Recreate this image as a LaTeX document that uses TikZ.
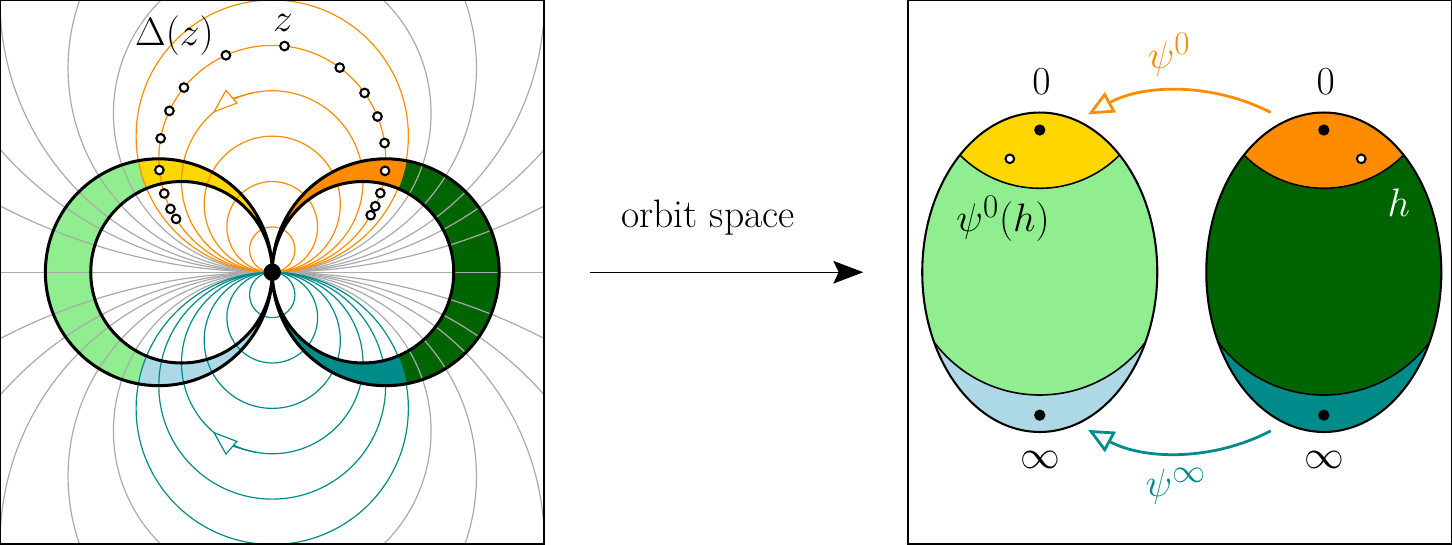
\documentclass[tikz,border=0pt]{standalone}
\usetikzlibrary{arrows.meta}
\definecolor{dorange}{HTML}{FF8C00}
\definecolor{goldc}{HTML}{FFD700}
\definecolor{lgreen}{HTML}{90EE90}
\definecolor{dgreen}{HTML}{006400}
\definecolor{lblue}{HTML}{ADD8E6}
\definecolor{dteal}{HTML}{008B8B}
\definecolor{lgray}{HTML}{AAAAAA}
\begin{document}
\begin{tikzpicture}[x=0.5cm, y=0.5cm,
  every node/.style={font=\fontsize{24.88}{30}\selectfont, inner sep=0pt},
  graycurve/.style={draw=lgray, line width=0.75pt},
  orangecurve/.style={draw=dorange, line width=0.75pt},
  tealcurve/.style={draw=dteal, line width=0.75pt},
  ringline/.style={draw=black, line width=1.9pt},
  wdot/.style={circle, draw=black, fill=white, line width=1.3pt, minimum size=0.19cm, inner sep=0pt},
  bdot/.style={circle, fill=black, minimum size=0.25cm, inner sep=0pt},
  eggline/.style={draw=black, line width=1.3pt},
  caparc/.style={draw=black, line width=1pt},
  flowarrow/.style={line width=1.75pt, -{Triangle[length=0.56cm, width=0.5cm, fill=white]}},
  circarrow/.style={-{Triangle[length=0.56cm, width=0.4cm, fill=white]}},
  panel/.style={draw=black, line width=0.9pt},
]
\useasboundingbox (-12,-12) rectangle (52,12);

% ---------- left panel: ring fills ----------
\fill[lgreen, even odd rule] (-5,0) circle (5) (-4,0) circle (4);
\fill[dgreen, even odd rule] (5,0) circle (5) (4,0) circle (4);
\begin{scope}
  \clip (0,6) circle (6);
  \fill[goldc, even odd rule] (-5,0) circle (5) (-4,0) circle (4);
  \fill[dorange, even odd rule] (5,0) circle (5) (4,0) circle (4);
\end{scope}
\begin{scope}
  \clip (0,-6) circle (6);
  \fill[lblue, even odd rule] (-5,0) circle (5) (-4,0) circle (4);
  \fill[dteal, even odd rule] (5,0) circle (5) (4,0) circle (4);
\end{scope}

% ---------- left panel: curve families ----------
\begin{scope}
  \clip (-12,-12) rectangle (12,12);
  \draw[graycurve] (-12,0) -- (12,0);
  \foreach \R in {7,9,12,16,26} {
    \draw[graycurve] (0,\R) circle (\R);
    \draw[graycurve] (0,-\R) circle (\R);
  }
  \foreach \k in {1,...,6} {
    \draw[orangecurve] (0,\k) circle (\k);
    \draw[tealcurve] (0,-\k) circle (\k);
  }
\end{scope}
\draw[orangecurve, circarrow] ([shift={(0,4)}]100:4) arc[start angle=100, end angle=131, radius=4];
\draw[tealcurve, circarrow] ([shift={(0,-4)}]260:4) arc[start angle=260, end angle=229, radius=4];

% ring outlines
\draw[ringline] (-5,0) circle (5) (-4,0) circle (4) (5,0) circle (5) (4,0) circle (4);

% orbit dots
\foreach \a [count=\i] in {83.8,114.1,141.1,155,169.6,185.7,197.8,206.2,212,53.5,35.5,21.9,8,-6.1,-17.6,-24.7,-29.8}
  \node[wdot] (z\i) at ([shift={(0,5)}]\a:5) {};
\node[circle, fill=black, minimum size=0.384cm] (orig) at (0,0) {};

\node (zlab) at (0.48,11.0) {$z$};
\node (dlab) at (-4.31,10.45) {$\Delta(z)$};

\draw[panel] (-11.97,-11.97) rectangle (11.97,11.97);

% ---------- middle ----------
\coordinate (ma) at (14,0);
\coordinate (mb) at (26.05,0);
\draw[line width=0.6pt, -{Stealth[length=0.66cm, width=0.5cm, inset=0.12cm]}] (ma) -- (mb);
\node (os) at (19.21,2.40) {orbit space};

% ---------- right panel ----------
\foreach \cx/\topc/\midc/\botc/\wx [count=\j] in {33.83/goldc/lgreen/lblue/32.51, 46.35/dorange/dgreen/dteal/48.0} {
  \begin{scope}
    \clip (\cx,0) ellipse [x radius=5.18, y radius=7.04];
    \fill[\botc] (\cx,0) ellipse [x radius=5.18, y radius=7.04];
    \fill[\midc] (\cx,0.41) circle (5.82);
    \fill[\midc] (\cx-6,0) rectangle (\cx+6,8);
    \fill[\topc] (\cx,8.65) circle (4.95);
    \draw[caparc] (\cx,8.65) circle (4.95);
    \begin{scope}
      \clip (\cx-6,-8) rectangle (\cx+6,0);
      \draw[caparc] (\cx,0.41) circle (5.82);
    \end{scope}
  \end{scope}
  \draw[eggline] (\cx,0) ellipse [x radius=5.18, y radius=7.04];
  \node[bdot] (top\j) at (\cx,6.27) {};
  \node[bdot] (bot\j) at (\cx,-6.30) {};
  \node[wdot] (w\j) at (\wx,5.0) {};
  \node (zero\j) at (\cx+0.08,8.38) {$0$};
  \node (inf\j) at (\cx+0.03,-8.29) {$\infty$};
}
\node (psih) at (32.21,2.36) {$\psi^0(h)$};
\node[text=white] (hlab) at (49.65,3.05) {$h$};
\node[text=dorange] (psi0) at (39.53,9.60) {$\psi^0$};
\node[text=dteal] (psiinf) at (39.83,-9.44) {$\psi^\infty$};

\coordinate (a0s) at (44.01,7.04);
\coordinate (a0e) at (35.96,6.96);
\draw[dorange, flowarrow] (a0s) to[bend right=28, looseness=0.9] (a0e);
\coordinate (ais) at (44.01,-6.99);
\coordinate (aie) at (35.96,-6.95);
\draw[dteal, flowarrow] (ais) to[bend left=28, looseness=0.9] (aie);

\draw[panel] (28.03,-11.97) rectangle (51.97,11.97);
\end{tikzpicture}
\end{document}
